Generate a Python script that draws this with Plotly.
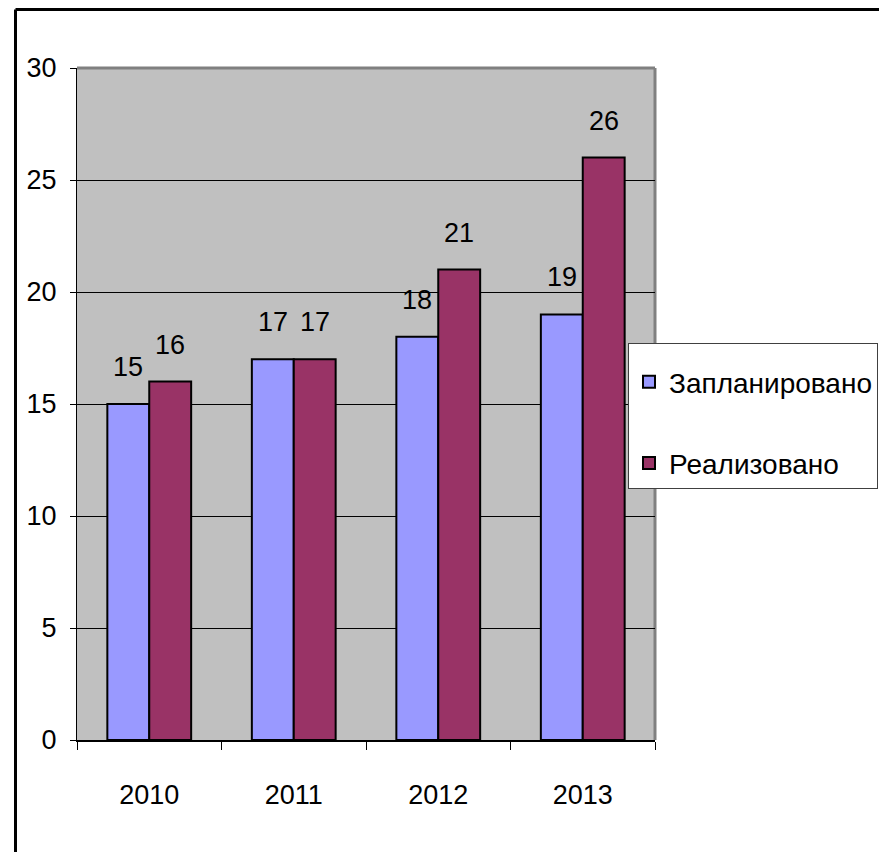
import plotly.graph_objects as go

years = ["2010", "2011", "2012", "2013"]
planned = [15, 17, 18, 19]
realized = [16, 17, 21, 26]
series_names = ["Запланировано", "Реализовано"]
y_ticks = [0, 5, 10, 15, 20, 25, 30]

FONT = "Liberation Sans, Arial, sans-serif"
BLUE = "#9999FF"
RED = "#993366"
FS = 27

OFF = 8  # page body margin
W, H = 887 - OFF, 852 - OFF
L, T = 77 - OFF, 68 - OFF
R, B = W - (655 - OFF), H - (740 - OFF)
pw, ph = W - L - R, H - T - B

def px(x):
    return (x - OFF - L) / pw

def py(y):
    return (H - B - (y - OFF)) / ph

BARGAP = 0.42
bar_w_px = pw / len(years) * (1 - BARGAP) / 2

fig = go.Figure()
annotations = []
for i, (name, vals, col) in enumerate([(series_names[0], planned, BLUE), (series_names[1], realized, RED)]):
    fig.add_trace(go.Bar(
        x=years, y=vals, name=name, legendgroup=f"g{i}",
        marker=dict(color=col, line=dict(color="black", width=2)),
    ))
    shift = (-0.5 if i == 0 else 0.5) * bar_w_px
    for k, v in enumerate(vals):
        annotations.append(dict(
            x=k, y=v, xref="x", yref="y", text=str(v), showarrow=False,
            xanchor="center", yanchor="bottom", xshift=shift, yshift=20,
            font=dict(family=FONT, size=FS, color="black"),
        ))

fig.update_layout(
    width=W, height=H,
    margin=dict(l=L, r=R, t=T, b=B, pad=0, autoexpand=False),
    paper_bgcolor="white", plot_bgcolor="#C0C0C0",
    barmode="group", bargap=BARGAP, bargroupgap=0,
    font=dict(family=FONT, size=FS, color="black"),
    showlegend=True,
    legend=dict(
        x=px(628), y=py(343), xanchor="left", yanchor="top",
        bgcolor="white", bordercolor="#404040", borderwidth=1,
        font=dict(family=FONT, size=28, color="black"),
        title=dict(text=" ", font=dict(size=10)),
        tracegroupgap=42, itemsizing="constant",
    ),
    xaxis=dict(
        type="category", range=[-0.5, len(years) - 0.5], autorange=False,
        showline=True, linecolor="black", linewidth=2,
        ticks="outside", tickson="boundaries", ticklen=8, tickcolor="black",
        tickfont=dict(family=FONT, size=FS, color="black"),
        ticklabelstandoff=30, showgrid=False,
    ),
    yaxis=dict(
        range=[0, 30], tickvals=y_ticks, showline=True, linecolor="black", linewidth=1,
        ticks="outside", ticklen=6, tickcolor="black",
        tickfont=dict(family=FONT, size=FS, color="black"),
        showgrid=True, gridcolor="black", gridwidth=1, zeroline=False,
        ticklabelstandoff=8,
    ),
    annotations=annotations,
    shapes=[
        dict(type="line", xref="paper", yref="paper", x0=0, x1=1, y0=1, y1=1,
             line=dict(color="#808080", width=3), layer="above"),
        dict(type="line", xref="paper", yref="paper", x0=1, x1=1, y0=0, y1=1,
             line=dict(color="#808080", width=3), layer="below"),
        dict(type="line", xref="paper", yref="paper", x0=px(15.5), x1=px(15.5), y0=py(9.5), y1=py(900),
             line=dict(color="black", width=3)),
        dict(type="line", xref="paper", yref="paper", x0=px(15.5), x1=px(900), y0=py(9.5), y1=py(9.5),
             line=dict(color="black", width=3)),
    ],
)

fig.write_html("out.html")
